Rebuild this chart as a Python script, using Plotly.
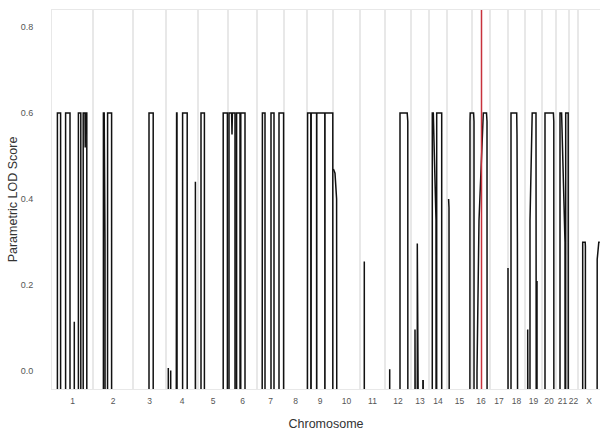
import plotly.graph_objects as go

# ---------------- data ----------------
chrom_names = ["1", "2", "3", "4", "5", "6", "7", "8", "9", "10", "11", "12",
               "13", "14", "15", "16", "17", "18", "19", "20", "21", "22", "X"]
chrom_lengths_cm = [205, 200, 165, 160, 150, 145, 135, 115, 130, 135, 125, 130,
                    90, 90, 125, 90, 90, 85, 85, 70, 65, 45, 110]

LOW = -2.0  # LOD far below the visible range

pos_cm = {
    "1": [27, 27, 43, 43, 68, 68, 90, 90, 111, 111.5, 112, 132, 132, 144, 144,
          156, 156, 165, 166, 167, 174, 174],
    "2": [52, 52, 56, 60, 62, 72, 73, 93, 93],
    "3": [80, 80, 101, 101],
    "4": [11, 11.5, 12, 23, 23.5, 24, 47, 50, 53, 55, 56, 83, 83, 106, 106, 146, 147, 149],
    "5": [15, 15, 32, 32, 126, 126, 147, 147],
    "6": [5, 5, 18, 20, 22, 35, 35, 43, 43, 60, 61, 63, 64, 85, 85],
    "7": [23, 25, 27, 40, 40, 70, 70, 85, 85, 110, 110, 133, 133],
    "8": [],
    "9": [0, 1, 3, 19, 20, 21, 48, 48.5, 49, 89, 89.5, 90, 129, 129],
    "10": [2, 10, 18, 22],
    "11": [21, 21.5, 22],
    "12": [23, 23.5, 24, 75, 75, 111, 114, 115],
    "13": [19.5, 20, 20.5, 31, 31.5, 32, 59, 59.5, 61, 61.5],
    "14": [16, 16.5, 21.5, 35, 37, 38, 38.5, 63.5, 63.5],
    "15": [8, 10, 15, 113, 115, 116, 125],
    "16": [0, 8, 10, 10.5, 22.5, 25, 35, 53.5, 56.5, 72.5, 75, 76.5],
    "17": [],
    "18": [0, 1.5, 15, 15, 43.5, 45, 47, 50, 52],
    "19": [13, 13.5, 14, 24.5, 25, 36, 55, 55.5, 59, 60, 61],
    "20": [15, 15, 57, 59, 60],
    "21": [20, 20, 28, 45, 47, 48, 48.5, 61, 61.5],
    "22": [],
    "X": [23, 23.5, 36, 37, 37.5, 94, 96, 104, 109],
}
lod = {
    "1": [LOW, 0.6, 0.6, LOW, LOW, 0.6, 0.6, LOW, LOW, 0.115, LOW, LOW, 0.6, 0.6, LOW,
          LOW, 0.6, 0.6, 0.52, 0.6, 0.6, LOW],
    "2": [LOW, 0.6, 0.6, 0.3, LOW, LOW, 0.6, 0.6, LOW],
    "3": [LOW, 0.6, 0.6, LOW],
    "4": [LOW, 0.008, LOW, LOW, 0.002, LOW, LOW, 0.45, 0.6, 0.6, LOW, LOW, 0.6, 0.6, LOW,
          LOW, 0.44, LOW],
    "5": [LOW, 0.6, 0.6, LOW, LOW, 0.6, 0.6, LOW],
    "6": [LOW, 0.6, 0.6, 0.55, 0.6, 0.6, LOW, LOW, 0.6, 0.6, LOW, LOW, 0.6, 0.6, LOW],
    "7": [LOW, 0.55, 0.6, 0.6, LOW, LOW, 0.6, 0.6, LOW, LOW, 0.6, 0.6, LOW],
    "8": [],
    "9": [LOW, 0.55, 0.6, 0.6, LOW, 0.6, 0.6, LOW, 0.6, 0.6, LOW, 0.6, 0.6, LOW],
    "10": [0.47, 0.46, 0.4, LOW],
    "11": [LOW, 0.255, LOW],
    "12": [LOW, 0.005, LOW, LOW, 0.6, 0.6, 0.58, LOW],
    "13": [LOW, 0.097, LOW, LOW, 0.297, LOW, LOW, -0.022, -0.022, LOW],
    "14": [LOW, 0.6, 0.6, 0.35, LOW, LOW, 0.6, 0.6, LOW],
    "15": [0.40, 0.38, LOW, LOW, 0.58, 0.6, 0.6],
    "16": [0.6, 0.6, 0.58, LOW, LOW, 0.0, 0.35, 0.57, 0.6, 0.6, 0.58, LOW],
    "17": [],
    "18": [0.24, LOW, LOW, 0.6, 0.6, 0.55, 0.3, -0.5, LOW],
    "19": [LOW, 0.097, LOW, LOW, 0.35, 0.6, 0.6, LOW, LOW, 0.21, LOW],
    "20": [LOW, 0.6, 0.6, 0.58, LOW],
    "21": [LOW, 0.6, 0.6, 0.3, LOW, LOW, 0.6, 0.6, LOW],
    "22": [],
    "X": [LOW, 0.3, 0.3, 0.29, LOW, LOW, 0.26, 0.3, 0.3],
}

marker_chrom = "16"
marker_cm = 47.5

y_ticks = [0.0, 0.2, 0.4, 0.6, 0.8]
y_tick_labels = ["0.0", "0.2", "0.4", "0.6", "0.8"]

# ---------------- build ----------------
offsets = {}
acc = 0.0
boundaries = [0.0]
centers = []
for name, length in zip(chrom_names, chrom_lengths_cm):
    offsets[name] = acc
    centers.append(acc + length / 2)
    acc += length
    boundaries.append(acc)
total = acc

fig = go.Figure()
for name in chrom_names:
    xs = [offsets[name] + p for p in pos_cm[name]]
    ys = lod[name]
    if not xs:
        continue
    fig.add_trace(go.Scatter(x=xs, y=ys, mode="lines",
                             line=dict(color="#111111", width=1.5),
                             showlegend=False, hoverinfo="skip"))

shapes = []
for b in boundaries[1:-1]:
    shapes.append(dict(type="line", xref="x", yref="paper", x0=b, x1=b, y0=0, y1=1,
                       line=dict(color="#e8e8e8", width=2), layer="below"))
mx = offsets[marker_chrom] + marker_cm
shapes.append(dict(type="line", xref="x", yref="paper", x0=mx, x1=mx, y0=0, y1=1,
                   line=dict(color="#c8323c", width=1.5), layer="above"))

font_family = "Arial, Liberation Sans, Helvetica, sans-serif"
fig.update_layout(
    width=601, height=441,
    margin=dict(l=52, r=1, t=10, b=52, autoexpand=False),
    paper_bgcolor="white", plot_bgcolor="white",
    shapes=shapes,
    font=dict(family=font_family),
    xaxis=dict(range=[0, total], tickmode="array", tickvals=centers, ticktext=chrom_names,
               tickangle=0, automargin=False,
               showgrid=False, zeroline=False, showline=True, mirror=True,
               linecolor="#e8e8e8", linewidth=1, ticks="",
               tickfont=dict(size=8.5, color="#555555"), ticklabelstandoff=4,
               title=dict(text="Chromosome", font=dict(size=12.5, color="#333333"), standoff=14)),
    yaxis=dict(range=[-0.041, 0.839], tickmode="array", tickvals=y_ticks, ticktext=y_tick_labels,
               automargin=False,
               showgrid=False, zeroline=False, showline=True, linecolor="#e8e8e8", linewidth=1,
               ticks="", tickfont=dict(size=9, color="#555555"), ticklabelstandoff=16,
               title=dict(text="Parametric LOD Score", font=dict(size=12.5, color="#333333"),
                          standoff=0)),
)

fig.write_html("out.html", config={"displayModeBar": False},
               post_script="document.body.style.margin='0';")
